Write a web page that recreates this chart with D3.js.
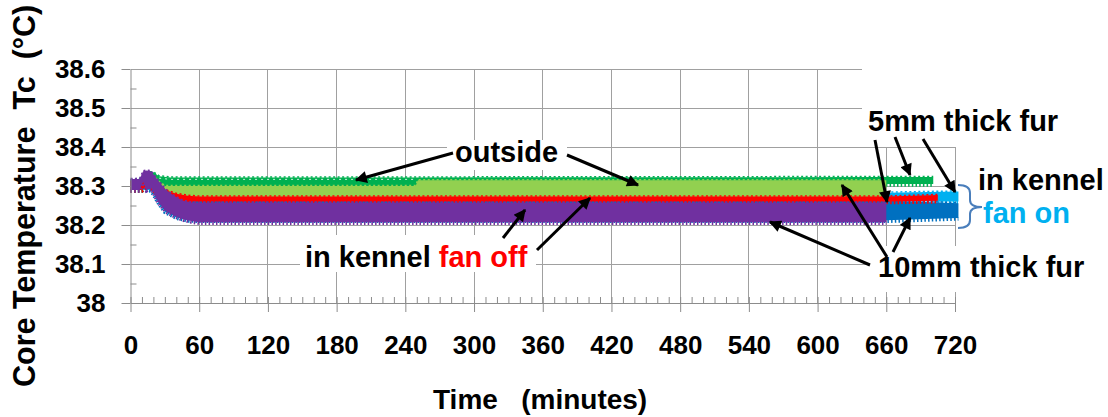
<!DOCTYPE html>
<html><head><meta charset="utf-8">
<script src="https://cdn.jsdelivr.net/npm/d3@7"></script>
<style>
body{margin:0;background:#fff}
svg{display:block}
text{font-family:"Liberation Sans",Arial,sans-serif;font-weight:bold}
</style>
</head><body>
<svg id="chart" width="1108" height="417"></svg>
<script>
// ---------- data ----------
const timeTicks = [0, 60, 120, 180, 240, 300, 360, 420, 480, 540, 600, 660, 720];
const tempTicks = [38.0, 38.1, 38.2, 38.3, 38.4, 38.5, 38.6];
const tempTickLabels = ["38", "38.1", "38.2", "38.3", "38.4", "38.5", "38.6"];

// each series: time (min) with lower / upper edge of the dense scatter band (°C)
// 5 mm fur, in kennel, fan on
const lightBlueTime = [0, 20, 30, 40, 60, 660, 723];
const lightBlueLow  = [38.29, 38.29, 38.27, 38.262, 38.26, 38.26, 38.26];
const lightBlueHigh = [38.31, 38.32, 38.30, 38.285, 38.283, 38.283, 38.286];
// 10 mm fur, in kennel, fan on
const blueTime = [0, 10, 15, 20, 25, 30, 40, 50, 60, 660, 723];
const blueLow  = [38.29, 38.29, 38.30, 38.28, 38.255, 38.235, 38.22, 38.213, 38.212, 38.212, 38.218];
const blueHigh = [38.315, 38.32, 38.335, 38.33, 38.31, 38.29, 38.27, 38.265, 38.263, 38.263, 38.256];
// 5 mm fur, outside
const darkGreenTime = [0, 10, 15, 20, 25, 35, 60, 249, 251, 660, 701];
const darkGreenLow  = [38.29, 38.29, 38.305, 38.30, 38.30, 38.298, 38.297, 38.297, 38.300, 38.305, 38.305];
const darkGreenHigh = [38.315, 38.318, 38.335, 38.335, 38.325, 38.322, 38.322, 38.322, 38.322, 38.323, 38.323];
// 10 mm fur, outside
const lightGreenTime = [15, 20, 25, 30, 40, 50, 60, 249, 251, 660];
const lightGreenLow  = [38.30, 38.29, 38.28, 38.275, 38.272, 38.272, 38.272, 38.272, 38.272, 38.272];
const lightGreenHigh = [38.33, 38.325, 38.31, 38.30, 38.30, 38.30, 38.30, 38.30, 38.315, 38.315];
// 5 mm fur, in kennel, fan off
const redTime = [0, 10, 15, 20, 25, 30, 40, 50, 60, 660, 705];
const redLow  = [38.29, 38.29, 38.30, 38.29, 38.275, 38.265, 38.26, 38.26, 38.26, 38.26, 38.262];
const redHigh = [38.31, 38.315, 38.33, 38.32, 38.305, 38.29, 38.28, 38.275, 38.273, 38.273, 38.277];
// 10 mm fur, in kennel, fan off
const purpleTime = [0, 8, 11, 14, 18, 20, 24, 31, 39, 46, 53, 60, 660];
const purpleLow  = [38.29, 38.29, 38.31, 38.29, 38.295, 38.285, 38.26, 38.236, 38.223, 38.215, 38.21, 38.207, 38.207];
const purpleHigh = [38.318, 38.318, 38.338, 38.34, 38.338, 38.33, 38.315, 38.29, 38.273, 38.262, 38.258, 38.257, 38.257];

// ---------- setup ----------
const svg = d3.select("#chart");
const x = d3.scaleLinear().domain([0, 720]).range([130.5, 955]);
const y = d3.scaleLinear().domain([38, 38.6]).range([303, 69]);
const gridColor = "#a0a0a0";

// gridlines
svg.append("g").selectAll("line").data(timeTicks.slice(1)).join("line")
  .attr("x1", d => x(d)).attr("x2", d => x(d)).attr("y1", y(38.6)).attr("y2", y(38))
  .attr("stroke", gridColor).attr("stroke-width", 1).attr("shape-rendering", "crispEdges");
svg.append("g").selectAll("line").data(tempTicks.slice(1)).join("line")
  .attr("x1", x(0)).attr("x2", x(720)).attr("y1", d => y(d)).attr("y2", d => y(d))
  .attr("stroke", gridColor).attr("stroke-width", 1).attr("shape-rendering", "crispEdges");

// ---------- series ----------
const series = [
  {color: "#00b0f0", t: lightBlueTime, lo: lightBlueLow, hi: lightBlueHigh},
  {color: "#0070c0", t: blueTime, lo: blueLow, hi: blueHigh},
  {color: "#00b050", t: darkGreenTime, lo: darkGreenLow, hi: darkGreenHigh},
  {color: "#92d050", t: lightGreenTime, lo: lightGreenLow, hi: lightGreenHigh},
  {color: "#ff0000", t: redTime, lo: redLow, hi: redHigh},
  {color: "#7030a0", t: purpleTime, lo: purpleLow, hi: purpleHigh}
];
const area = d3.area().x(d => x(d.t)).y0(d => y(d.lo)).y1(d => y(d.hi));
const edgeLo = d3.line().x(d => x(d.t)).y(d => y(d.lo) + 1);
const edgeHi = d3.line().x(d => x(d.t)).y(d => y(d.hi) - 0.5);
const gS = svg.append("g");
series.forEach(s => {
  const pts = s.t.map((t, i) => ({t: t, lo: s.lo[i], hi: s.hi[i]}));
  gS.append("path").datum(pts).attr("d", area).attr("fill", s.color);
  gS.append("path").datum(pts).attr("d", edgeLo).attr("fill", "none")
    .attr("stroke", s.color).attr("stroke-width", 3.5).attr("stroke-dasharray", "1.5,2.2");
  gS.append("path").datum(pts).attr("d", edgeHi).attr("fill", "none")
    .attr("stroke", s.color).attr("stroke-width", 1.5).attr("stroke-dasharray", "2,2.5");
});
// white marker gaps in the dark green band (before 250 min)
const dg = darkGreenTime.map((t, i) => ({t: t, v: darkGreenHigh[i] - 0.005})).filter(d => d.t >= 25 && d.t <= 249);
gS.append("path").datum(dg).attr("d", d3.line().x(d => x(d.t)).y(d => y(d.v)))
  .attr("fill", "none").attr("stroke", "#fff").attr("stroke-width", 1).attr("stroke-dasharray", "2,4").attr("opacity", 0.8);

// ---------- axes ----------
const axColor = "#8c8c8c";
function styleAxis(g) {
  g.selectAll("path.domain").attr("stroke", axColor);
  g.selectAll(".tick line").attr("stroke", axColor);
  g.selectAll(".tick text").attr("fill", "#000").style("font-size", "26px")
    .style("font-family", '"Liberation Sans", Arial, sans-serif').style("font-weight", "bold");
}
// minor ticks
svg.append("g").attr("transform", `translate(0,${y(38)})`)
  .call(d3.axisBottom(x).tickValues(d3.range(0, 721, 10)).tickSize(-6).tickFormat(""))
  .call(g => { g.select(".domain").remove(); g.selectAll(".tick line").attr("stroke", axColor); });
svg.append("g").attr("transform", `translate(${x(0)},0)`)
  .call(d3.axisLeft(y).tickValues(tempTicks.slice(0, -1).map(v => v + 0.05)).tickSize(-6).tickFormat(""))
  .call(g => { g.select(".domain").remove(); g.selectAll(".tick line").attr("stroke", axColor); });
// major axes
svg.append("g").attr("transform", `translate(0,${y(38)})`)
  .call(d3.axisBottom(x).tickValues(timeTicks).tickSizeInner(9).tickSizeOuter(0).tickPadding(24).tickFormat(d3.format("d")))
  .call(styleAxis);
svg.append("g").attr("transform", `translate(${x(0)},0)`)
  .call(d3.axisLeft(y).tickValues(tempTicks).tickSizeInner(9).tickSizeOuter(0).tickPadding(16)
    .tickFormat((d, i) => tempTickLabels[i]))
  .call(styleAxis);

// axis titles
svg.append("text").attr("x", 433).attr("y", 409).style("font-size", "28px").attr("xml:space", "preserve")
  .text("Time   (minutes)");
svg.append("text").attr("transform", "translate(35,387) rotate(-90)").style("font-size", "30.5px")
  .attr("xml:space", "preserve").text("Core Temperature  Tc  (°C)");

// ---------- annotations ----------
const ann = svg.append("g");
// white label boxes
[[447, 140, 120, 30], [300, 235, 236, 37], [862, 60, 208, 87], [868, 246, 225, 46]].forEach(b =>
  ann.append("rect").attr("x", b[0]).attr("y", b[1]).attr("width", b[2]).attr("height", b[3]).attr("fill", "#fff"));

function label(txt, x0, yb, color) {
  return ann.append("text").attr("x", x0).attr("y", yb).style("font-size", "29px").attr("fill", color || "#000").text(txt);
}
label("outside", 455, 162);
const t2 = ann.append("text").attr("x", 305).attr("y", 267).style("font-size", "29px");
t2.append("tspan").attr("fill", "#000").text("in kennel ");
t2.append("tspan").attr("fill", "#ff0000").text("fan off");
label("5mm thick fur", 868, 131);
label("in kennel", 978, 190);
label("fan on", 983, 223, "#00b0f0");
label("10mm thick fur", 878, 277);

// brace
ann.append("path")
  .attr("d", "M958,185 Q970,185 970,193 L970,200 Q970,207 982,207 Q970,207 970,214 L970,220 Q970,228 958,228")
  .attr("fill", "none").attr("stroke", "#4a7ebb").attr("stroke-width", 2);

// arrows
const defs = svg.append("defs");
defs.append("marker").attr("id", "ah").attr("viewBox", "0 0 10 10").attr("refX", 9).attr("refY", 5)
  .attr("markerWidth", 14).attr("markerHeight", 12).attr("markerUnits", "userSpaceOnUse").attr("orient", "auto")
  .append("path").attr("d", "M0,0 L10,5 L0,10 z").attr("fill", "#000");
const arrows = [
  [453, 153, 356, 180], [567, 155, 638, 185],
  [503, 238, 525, 210], [537, 250, 590, 198],
  [875, 140, 887, 202], [895, 137, 910, 175], [923, 139, 955, 192],
  [870, 265, 770, 222], [887, 257, 842, 185], [893, 252, 910, 218]
];
ann.selectAll("line.arr").data(arrows).join("line").attr("class", "arr")
  .attr("x1", d => d[0]).attr("y1", d => d[1]).attr("x2", d => d[2]).attr("y2", d => d[3])
  .attr("stroke", "#000").attr("stroke-width", 3).attr("marker-end", "url(#ah)");
</script>
</body></html>
